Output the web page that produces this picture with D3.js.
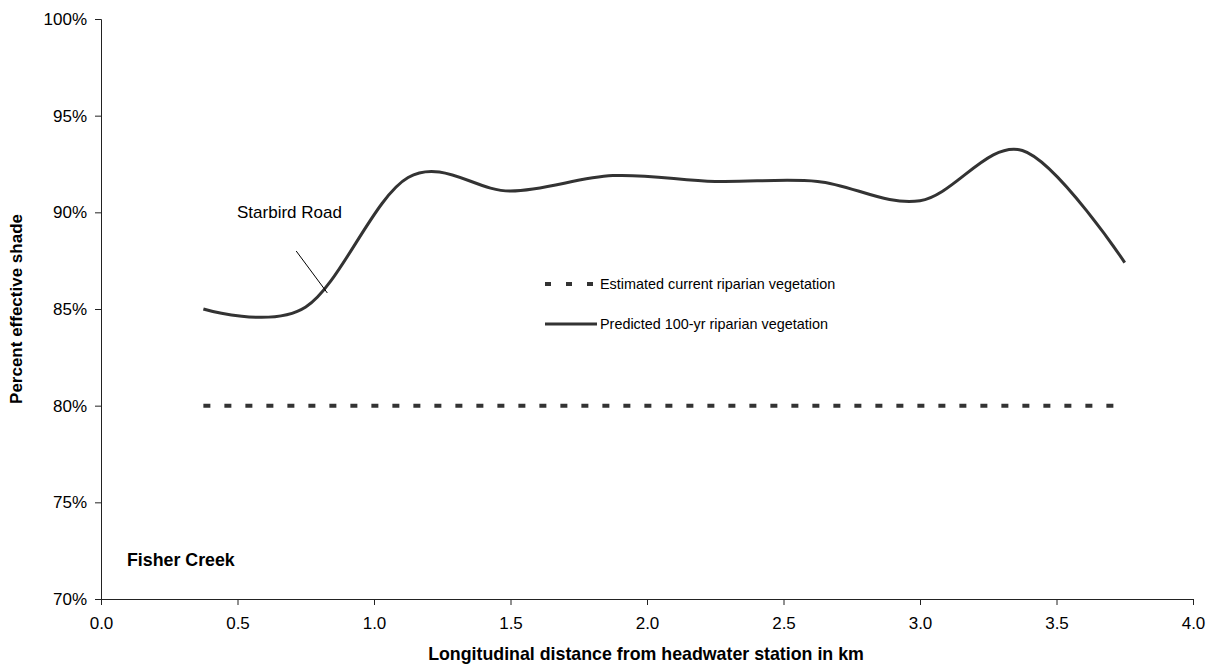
<!DOCTYPE html>
<html>
<head>
<meta charset="utf-8">
<script src="https://cdn.jsdelivr.net/npm/d3@7"></script>
<style>
  body { margin: 0; background: #fff; }
  text { font-family: "Liberation Sans", Arial, sans-serif; fill: #000; }
</style>
</head>
<body>
<svg id="chart"></svg>
<script>
// Data
var distanceKm = [0.375, 0.75, 1.125, 1.5, 1.875, 2.25, 2.625, 3.0, 3.375, 3.75];
var predictedShade = [85.0, 85.1, 91.8, 91.1, 91.9, 91.6, 91.6, 90.6, 93.2, 87.4];
var currentShade = [80, 80, 80, 80, 80, 80, 80, 80, 80, 80];
var xTicks = [0, 0.5, 1.0, 1.5, 2.0, 2.5, 3.0, 3.5, 4.0];
var yTicks = [70, 75, 80, 85, 90, 95, 100];
var seriesNames = ["Estimated current riparian vegetation", "Predicted 100-yr riparian vegetation"];

var svg_width = 1214, svg_height = 671;
var margin = {top: 19, right: 21, bottom: 72, left: 101};

var svg = d3.select("#chart")
  .attr("width", svg_width)
  .attr("height", svg_height);

var x = d3.scaleLinear().domain([0, 4]).range([margin.left, svg_width - margin.right]);
var y = d3.scaleLinear().domain([70, 100]).range([svg_height - margin.bottom, margin.top]);

// Y axis
var yAxis = svg.append("g")
  .attr("transform", "translate(" + margin.left + ",0)")
  .call(d3.axisLeft(y).tickValues(yTicks).tickSize(6).tickPadding(8)
    .tickFormat(d => d + "%"));
yAxis.selectAll("text").style("font-size", "17px").style("font-family", "Liberation Sans, Arial");
yAxis.selectAll("path, line").attr("stroke", "#222");

// X axis
var xAxis = svg.append("g")
  .attr("transform", "translate(0," + (svg_height - margin.bottom) + ")")
  .call(d3.axisBottom(x).tickValues(xTicks).tickSize(6).tickPadding(12)
    .tickFormat(d3.format(".1f")));
xAxis.selectAll("text").style("font-size", "17px").style("font-family", "Liberation Sans, Arial");
xAxis.selectAll("path, line").attr("stroke", "#222");

// Axis titles
svg.append("text")
  .text("Longitudinal distance from headwater station in km")
  .attr("x", 646)
  .attr("y", 660)
  .attr("text-anchor", "middle")
  .style("font-size", "17.8px")
  .style("font-weight", "bold");

svg.append("text")
  .text("Percent effective shade")
  .attr("transform", "translate(22," + ((y(70) + y(100)) / 2) + ") rotate(-90)")
  .attr("text-anchor", "middle")
  .style("font-size", "17px")
  .style("font-weight", "bold");

// Series
var current = distanceKm.map((d, i) => [d, currentShade[i]]);
var predicted = distanceKm.map((d, i) => [d, predictedShade[i]]);

svg.append("path")
  .datum(current)
  .attr("fill", "none")
  .attr("stroke", "#333")
  .attr("stroke-width", 4)
  .attr("stroke-dasharray", "7,14")
  .attr("d", d3.line().x(d => x(d[0])).y(d => y(d[1])));

svg.append("path")
  .datum(predicted)
  .attr("fill", "none")
  .attr("stroke", "#333")
  .attr("stroke-width", 3)
  .attr("d", d3.line().curve(d3.curveCatmullRom.alpha(0)).x(d => x(d[0])).y(d => y(d[1])));

// Annotation
svg.append("line")
  .attr("x1", x(0.715)).attr("y1", y(88.0))
  .attr("x2", x(0.829)).attr("y2", y(85.83))
  .attr("stroke", "#000")
  .attr("stroke-width", 1);

svg.append("text")
  .text("Starbird Road")
  .attr("x", 237)
  .attr("y", 218)
  .style("font-size", "17px");

svg.append("text")
  .text("Fisher Creek")
  .attr("x", 127)
  .attr("y", 566)
  .style("font-size", "17.8px")
  .style("font-weight", "bold");

// Legend
var legend = svg.append("g").attr("transform", "translate(545,284)");
legend.append("line")
  .attr("x1", 0).attr("x2", 52).attr("y1", 0).attr("y2", 0)
  .attr("stroke", "#333").attr("stroke-width", 4)
  .attr("stroke-dasharray", "6,15");
legend.append("text").text(seriesNames[0])
  .attr("x", 55).attr("y", 5).style("font-size", "14.4px");
legend.append("line")
  .attr("x1", 0).attr("x2", 52).attr("y1", 40).attr("y2", 40)
  .attr("stroke", "#333").attr("stroke-width", 3);
legend.append("text").text(seriesNames[1])
  .attr("x", 55).attr("y", 45).style("font-size", "14.4px");
</script>
</body>
</html>
